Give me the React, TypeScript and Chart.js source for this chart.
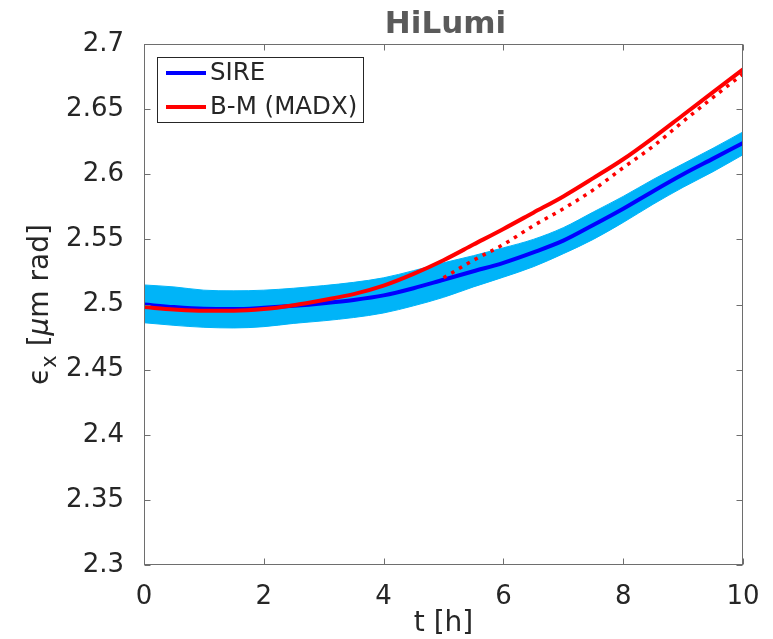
import { useEffect, useRef } from 'react';
import { Chart, registerables } from 'chart.js';

Chart.register(...registerables);

// Time samples [h]
const hours = [0, 0.5, 1, 1.5, 2, 2.5, 3, 3.5, 4, 4.5, 5, 5.5, 6, 6.5, 7, 7.5, 8, 8.5, 9, 9.5, 10];

// SIRE mean emittance and its ±1σ envelope [µm rad]
const sireMean = [2.5, 2.498, 2.4967, 2.4965, 2.4975, 2.499, 2.501, 2.5035, 2.507, 2.5125, 2.519, 2.5255, 2.532, 2.54, 2.549, 2.561, 2.5735, 2.587, 2.6, 2.612, 2.624];
const sireUpper = [2.515, 2.5135, 2.511, 2.5105, 2.511, 2.5125, 2.5145, 2.517, 2.5205, 2.526, 2.532, 2.5375, 2.5435, 2.55, 2.559, 2.571, 2.583, 2.596, 2.608, 2.62, 2.6325];
const sireLower = [2.486, 2.484, 2.4825, 2.482, 2.483, 2.4855, 2.4875, 2.49, 2.4935, 2.499, 2.5055, 2.5135, 2.521, 2.529, 2.539, 2.55, 2.563, 2.577, 2.59, 2.602, 2.615];

// Bjorken-Mtingwa (MADX) evolution
const bmMadx = [2.498, 2.4962, 2.4952, 2.4952, 2.4965, 2.4995, 2.5035, 2.508, 2.5145, 2.5235, 2.534, 2.546, 2.558, 2.5705, 2.583, 2.597, 2.6115, 2.628, 2.6455, 2.663, 2.6805];

// B-M restarted from the SIRE distribution at t = 5 h
const restartHours = [5, 5.5, 6, 6.5, 7, 7.5, 8, 8.5, 9, 9.5, 10];
const bmRestart = [2.5205, 2.534, 2.546, 2.5605, 2.5735, 2.588, 2.605, 2.6215, 2.6405, 2.659, 2.677];

// Axis ticks
const xTickValues = [0, 2, 4, 6, 8, 10];
const yTickValues = [2.3, 2.35, 2.4, 2.45, 2.5, 2.55, 2.6, 2.65, 2.7];

const legendItems = [
  { label: 'SIRE', color: '#0000ff' },
  { label: 'B-M (MADX)', color: '#ff0000' },
];

const FONT = "'DejaVu Sans', 'Liberation Sans', sans-serif";
const TEXT = '#262626';
const AXIS = '#6e6e6e';
const BAND = '#00b4f8';

const pts = (xs: number[], ys: number[]) => xs.map((x, i) => ({ x, y: ys[i] }));

const fmt = (v: number) => String(parseFloat(v.toFixed(2)));

const framePlugin = {
  id: 'matlabFrame',
  afterDraw(chart: any) {
    const { ctx, chartArea } = chart;
    const { left, right, top, bottom } = chartArea;
    const xs = chart.scales.x;
    const ys = chart.scales.y;
    const L = Math.round(left) + 0.5;
    const R = Math.round(right) - 0.5;
    const T = Math.round(top) + 0.5;
    const B = Math.round(bottom) - 0.5;

    ctx.save();
    ctx.strokeStyle = AXIS;
    ctx.lineWidth = 1;
    ctx.strokeRect(L, T, R - L, B - T);

    // inward tick marks on all four sides
    const tl = 6;
    ctx.beginPath();
    xTickValues.forEach((v) => {
      const px = Math.round(xs.getPixelForValue(v)) + 0.5;
      ctx.moveTo(px, B);
      ctx.lineTo(px, B - tl);
      ctx.moveTo(px, T);
      ctx.lineTo(px, T + tl);
    });
    yTickValues.forEach((v) => {
      const py = Math.round(ys.getPixelForValue(v)) + 0.5;
      ctx.moveTo(L, py);
      ctx.lineTo(L + tl, py);
      ctx.moveTo(R, py);
      ctx.lineTo(R - tl, py);
    });
    ctx.stroke();

    // legend box
    const lx = 157.5, ly = 57.5, lw = 206, lh = 65;
    ctx.fillStyle = '#ffffff';
    ctx.fillRect(lx, ly, lw, lh);
    ctx.strokeStyle = TEXT;
    ctx.strokeRect(lx, ly, lw, lh);
    ctx.font = `24.5px ${FONT}`;
    ctx.textBaseline = 'middle';
    ctx.textAlign = 'left';
    legendItems.forEach((item, i) => {
      const y = 73 + i * 34;
      ctx.strokeStyle = item.color;
      ctx.lineWidth = 4;
      ctx.beginPath();
      ctx.moveTo(166, y);
      ctx.lineTo(206, y);
      ctx.stroke();
      ctx.fillStyle = TEXT;
      ctx.fillText(item.label, 210, y + 1);
    });

    // title
    ctx.fillStyle = '#5a5a5a';
    ctx.font = `bold 31px ${FONT}`;
    ctx.textAlign = 'center';
    ctx.textBaseline = 'alphabetic';
    ctx.fillText('HiLumi', (left + right) / 2 + 2, 33);

    // x axis title
    ctx.fillStyle = TEXT;
    ctx.font = `28px ${FONT}`;
    ctx.fillText('t [h]', (left + right) / 2, 631);

    // y axis title with subscript
    const parts = [
      { t: '\u03f5', f: `28px ${FONT}`, dy: 0 },
      { t: 'x', f: `21px ${FONT}`, dy: 8 },
      { t: ' [', f: `28px ${FONT}`, dy: 0 },
      { t: '\u03bc', f: `italic 28px ${FONT}`, dy: 0 },
      { t: 'm rad]', f: `28px ${FONT}`, dy: 0 },
    ];
    let total = 0;
    parts.forEach((p) => {
      ctx.font = p.f;
      total += ctx.measureText(p.t).width;
    });
    ctx.translate(48, (top + bottom) / 2);
    ctx.rotate(-Math.PI / 2);
    ctx.textAlign = 'left';
    ctx.textBaseline = 'alphabetic';
    let cx = -total / 2;
    parts.forEach((p) => {
      ctx.font = p.f;
      ctx.fillText(p.t, cx, p.dy);
      cx += ctx.measureText(p.t).width;
    });
    ctx.restore();
  },
};

export default function App() {
  const canvasRef = useRef<HTMLCanvasElement | null>(null);

  useEffect(() => {
    const canvas = canvasRef.current;
    if (!canvas) return;
    const line = (color: string, width: number) => ({
      borderColor: color,
      borderWidth: width,
      pointRadius: 0,
      cubicInterpolationMode: 'monotone',
    });
    const chart = new Chart(canvas, {
      type: 'line',
      data: {
        datasets: [
          {
            label: 'B-M restart',
            data: pts(restartHours, bmRestart),
            ...line('#ff0000', 3.5),
            borderDash: [3.5, 5.5],
            borderCapStyle: 'butt',
            fill: false,
          },
          {
            label: 'B-M (MADX)',
            data: pts(hours, bmMadx),
            ...line('#ff0000', 4),
            fill: false,
          },
          {
            label: 'SIRE',
            data: pts(hours, sireMean),
            ...line('#0000ff', 4),
            fill: false,
          },
          {
            label: 'SIRE upper',
            data: pts(hours, sireUpper),
            ...line(BAND, 1),
            backgroundColor: BAND,
            fill: '+1',
          },
          {
            label: 'SIRE lower',
            data: pts(hours, sireLower),
            ...line(BAND, 1),
            fill: false,
          },
        ],
      },
      options: {
        animation: false,
        responsive: false,
        devicePixelRatio: 1,
        layout: { padding: { left: 0, right: 30, top: 44, bottom: 0 } },
        plugins: {
          legend: { display: false },
          title: { display: false },
          tooltip: { enabled: false },
        },
        scales: {
          x: {
            type: 'linear',
            min: 0,
            max: 10,
            grid: { display: false },
            border: { display: false },
            afterBuildTicks: (s: any) => {
              s.ticks = xTickValues.map((value) => ({ value }));
            },
            afterFit: (s: any) => {
              s.height = 74;
            },
            ticks: {
              padding: 9,
              color: TEXT,
              font: { family: FONT, size: 26 },
              maxRotation: 0,
              callback: (v: any) => fmt(Number(v)),
            },
          },
          y: {
            type: 'linear',
            min: 2.3,
            max: 2.7,
            grid: { display: false },
            border: { display: false },
            afterBuildTicks: (s: any) => {
              s.ticks = yTickValues.map((value) => ({ value }));
            },
            afterFit: (s: any) => {
              s.width = 144;
            },
            ticks: {
              padding: 12,
              color: TEXT,
              font: { family: FONT, size: 26 },
              callback: (v: any) => fmt(Number(v)),
            },
          },
        },
      },
      plugins: [framePlugin],
    } as any);
    return () => chart.destroy();
  }, []);

  return (
    <div style={{ position: 'absolute', left: 0, top: 0, width: 773, height: 639, background: '#ffffff' }}>
      <canvas ref={canvasRef} width={773} height={639} style={{ display: 'block' }} />
    </div>
  );
}
